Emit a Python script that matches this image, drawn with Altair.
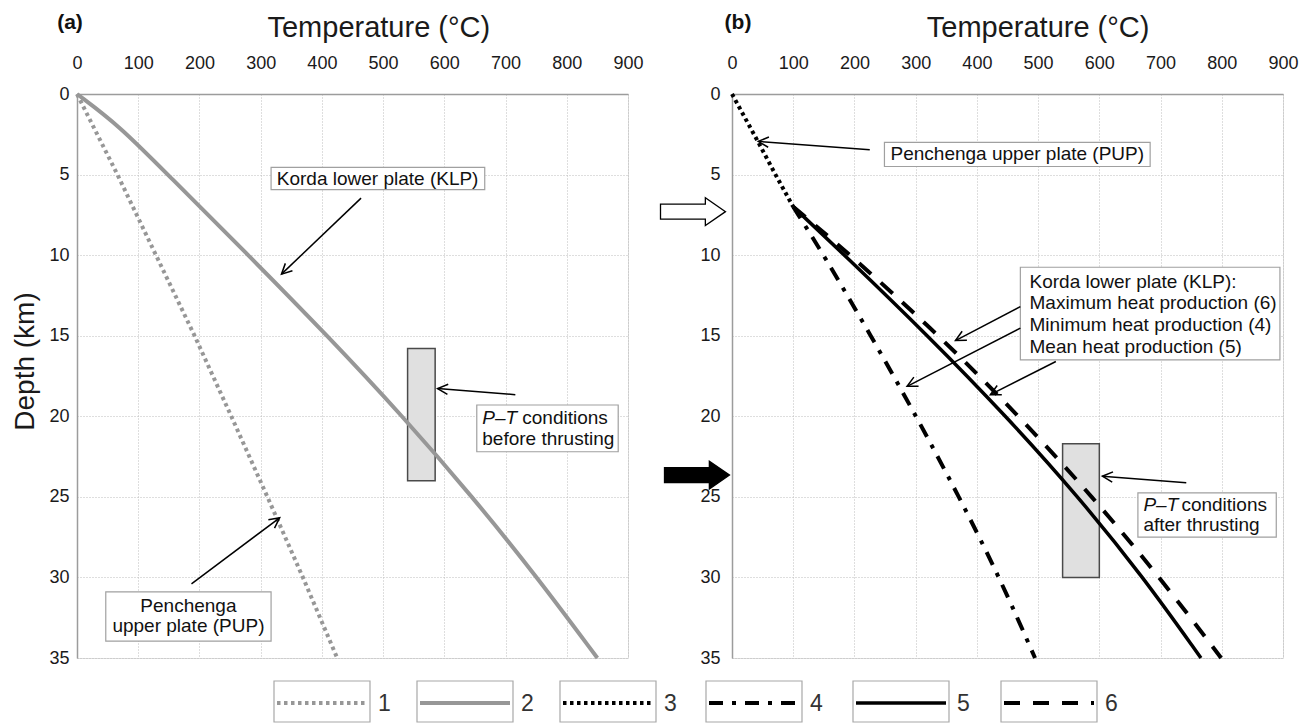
import math
import altair as alt
import pandas as pd

# ------------------------------------------------------------------
# Data
# ------------------------------------------------------------------
# Panel (a): before thrusting
klp_a_depth = [0, 2, 5, 10, 15, 20, 25, 30, 35]
klp_a_temp = [0, 70, 148, 280, 409, 532, 646, 752, 850]
pup_a_depth = [0, 5, 10, 15, 20, 25, 30, 35]
pup_a_temp = [0, 66, 129, 192, 252, 311, 369, 425]

# Panel (b): after thrusting
pup_b_depth = [0, 3, 5, 7]
pup_b_temp = [0, 43, 71, 100]
klp_b_depth = [7, 10, 15, 20, 25, 30, 35]
klp_min_temp = [100, 150, 227, 301, 371, 437, 495]
klp_mean_temp = [100, 184, 320, 448, 566, 672, 766]
klp_max_temp = [100, 194, 339, 469, 589, 699, 799]

# P-T condition boxes (temperature range, depth range)
pt_before_t = [540, 585]
pt_before_z = [15.8, 24.0]
pt_after_t = [540, 600]
pt_after_z = [21.7, 30.0]

x_ticks = list(range(0, 901, 100))
y_ticks = list(range(0, 36, 5))
legend_labels = ["1", "2", "3", "4", "5", "6"]

# ------------------------------------------------------------------
# Layout / style
# ------------------------------------------------------------------
FONT = "Liberation Sans"
W, H = 551, 564
XMAX, ZMAX = 900, 35
A_LEFT, TOP = 76, 93
B_LEFT = 731
SPACING = B_LEFT - (A_LEFT + W)


def tx(px):
    return px * XMAX / W


def tz(py):
    return py * ZMAX / H


GRAY = "#979797"
STYLES = {
    "1": dict(color=GRAY, strokeWidth=4, strokeDash=[3.5, 3.5]),
    "2": dict(color=GRAY, strokeWidth=4),
    "3": dict(color="black", strokeWidth=4, strokeDash=[3.5, 3.5]),
    "4": dict(color="black", strokeWidth=4, strokeDash=[14, 9, 4, 9]),
    "5": dict(color="black", strokeWidth=3.5),
    "6": dict(color="black", strokeWidth=4, strokeDash=[16, 13]),
}

xscale = alt.Scale(domain=[0, XMAX], nice=False, zero=False)
yscale = alt.Scale(domain=[0, ZMAX], nice=False, zero=False, reverse=True)


def xaxis():
    return alt.Axis(orient="top", values=x_ticks, ticks=False, tickSize=0,
                    domain=True, domainColor="#9c9c9c", domainWidth=1.5,
                    grid=True, gridColor="#bdbdbd", gridDash=[1, 2], gridWidth=1,
                    labelFont=FONT, labelFontSize=18, labelColor="#1a1a1a",
                    labelPadding=22, labelFlush=False, labelOverlap=False, title=None)


def yaxis(pad):
    return alt.Axis(orient="left", values=y_ticks, ticks=False, tickSize=0,
                    domain=True, domainColor="#9c9c9c", domainWidth=1.5,
                    grid=True, gridColor="#bdbdbd", gridDash=[1, 2], gridWidth=1,
                    labelFont=FONT, labelFontSize=18, labelColor="#1a1a1a",
                    labelPadding=pad, labelOverlap=False, title=None)


def enc(pad, f_t="t", f_z="z"):
    return dict(x=alt.X(f"{f_t}:Q", scale=xscale, axis=xaxis()),
                y=alt.Y(f"{f_z}:Q", scale=yscale, axis=yaxis(pad)))


def series_layer(depths, temps, key, pad, interp="linear"):
    df = pd.DataFrame({"z": depths, "t": temps, "o": list(range(len(depths)))})
    return alt.Chart(df).mark_line(interpolate=interp, strokeJoin="round", **STYLES[key]).encode(
        order="o:Q", **enc(pad))


def rect_layer(t1, t2, z1, z2, pad, fill, stroke, sw):
    df = pd.DataFrame({"t": t1, "t2": t2, "z": z1, "z2": z2})
    return alt.Chart(df).mark_rect(fill=fill, stroke=stroke, strokeWidth=sw).encode(
        x2="t2:Q", y2="z2:Q", **enc(pad))


def text_layer(ts, zs, labels, pad, size=19, align="center", style="normal",
               weight="normal", dx=0, color="#111111", angle=0):
    df = pd.DataFrame({"t": ts, "z": zs, "label": labels})
    kw = dict(font=FONT, fontSize=size, align=align, baseline="middle",
              fontStyle=style, fontWeight=weight, color=color, dx=dx)
    if angle:
        kw["angle"] = angle
    return alt.Chart(df).mark_text(**kw).encode(text="label:N", **enc(pad))


ARROW_HEAD = "M -0.5 1 L 0 0 L 0.5 1"
BLOCK_ARROW = "M -1 -0.23 L 0.38 -0.23 L 0.38 -0.43 L 1 0 L 0.38 0.43 L 0.38 0.23 L -1 0.23 Z"


def arrow_layers(t_from, z_from, t_to, z_to, pad):
    angs = []
    for a, b, c, d in zip(t_from, z_from, t_to, z_to):
        dx = (c - a) * W / XMAX
        dy = (d - b) * H / ZMAX
        angs.append(math.degrees(math.atan2(dx, -dy)) % 360)
    df = pd.DataFrame({"t": t_from, "z": z_from, "t2": t_to, "z2": z_to, "ang": angs})
    shaft = alt.Chart(df).mark_rule(color="black", strokeWidth=1.5).encode(
        x2="t2:Q", y2="z2:Q", **enc(pad))
    head = alt.Chart(df).mark_point(shape=ARROW_HEAD, filled=False, color="black",
                                    strokeWidth=1.5, size=420, opacity=1).encode(
        angle=alt.Angle("ang:Q", scale=None), **enc(pad, "t2", "z2"))
    return [shaft, head]


# ------------------------------------------------------------------
# Panel (a)
# ------------------------------------------------------------------
PA = 8
layers_a = []
# invisible anchor at the page's top-left corner
anchor = pd.DataFrame({"t": [tx(-A_LEFT)], "z": [tz(-TOP)], "t2": [tx(-A_LEFT)], "z2": [tz(-TOP)]})
layers_a.append(alt.Chart(anchor).mark_rule(strokeOpacity=0, strokeWidth=0.01).encode(
    x2="t2:Q", y2="z2:Q", **enc(PA)))
layers_a.append(rect_layer([pt_before_t[0]], [pt_before_t[1]], [pt_before_z[0]], [pt_before_z[1]],
                           PA, "#e0e0e0", "#4a4a4a", 1.5))
layers_a.append(series_layer(pup_a_depth, pup_a_temp, "1", PA))
layers_a.append(series_layer(klp_a_depth, klp_a_temp, "2", PA, "basis"))
# annotation boxes
layers_a.append(rect_layer([317, 653, 47], [666, 884, 317], [4.55, 19.3, 30.9], [5.94, 22.2, 33.95],
                           PA, "white", "#a0a0a0", 1.2))
layers_a.append(text_layer([491, 182, 182], [5.25, 31.8, 33.0],
                           ["Korda lower plate (KLP)", "Penchenga", "upper plate (PUP)"], PA))
layers_a.append(text_layer([662], [20.1], ["P\u2013T"], PA, align="left", style="italic"))
layers_a.append(text_layer([662], [20.1], ["conditions"], PA, align="left", dx=40))
layers_a.append(text_layer([662], [21.4], ["before thrusting"], PA, align="left"))
layers_a += arrow_layers([464, 716, 187], [6.46, 18.66, 30.4], [334, 589, 331], [11.18, 18.28, 26.3], PA)
# titles
layers_a.append(text_layer([tx(-7)], [tz(-71)], ["(a)"], PA, size=21, weight="bold"))
layers_a.append(text_layer([493], [tz(-66)], ["Temperature (\u00b0C)"], PA, size=29, color="#1a1a1a"))
layers_a.append(text_layer([tx(-51)], [16.6], ["Depth (km)"], PA, size=28, color="#1a1a1a", angle=270))

# legend (placed below both panels)
leg_left = [273, 416, 559, 705, 852, 1000]
LEG_W, LEG_TOP, LEG_BOT, LEG_Y = 96, 680, 721, 702
layers_a.append(rect_layer([tx(x - A_LEFT) for x in leg_left],
                           [tx(x + LEG_W - A_LEFT) for x in leg_left],
                           [tz(LEG_TOP - TOP)] * 6, [tz(LEG_BOT - TOP)] * 6,
                           PA, "white", "#a8a8a8", 1.2))
for i, key in enumerate(legend_labels):
    x0 = leg_left[i]
    df = pd.DataFrame({"t": [tx(x0 + 3 - A_LEFT)], "t2": [tx(x0 + LEG_W - 3 - A_LEFT)],
                       "z": [tz(LEG_Y - TOP)]})
    layers_a.append(alt.Chart(df).mark_rule(**STYLES[key]).encode(x2="t2:Q", **enc(PA)))
layers_a.append(text_layer([tx(x + LEG_W + 8 - A_LEFT) for x in leg_left], [tz(LEG_Y + 1 - TOP)] * 6,
                           legend_labels, PA, size=23, align="left", color="#333333"))

panel_a = alt.layer(*layers_a).properties(width=W, height=H)

# ------------------------------------------------------------------
# Panel (b)
# ------------------------------------------------------------------
PB = 12
layers_b = []
layers_b.append(rect_layer([pt_after_t[0]], [pt_after_t[1]], [pt_after_z[0]], [pt_after_z[1]],
                           PB, "#e0e0e0", "#4a4a4a", 1.5))
layers_b.append(series_layer(klp_b_depth, klp_min_temp, "4", PB, "basis"))
layers_b.append(series_layer(klp_b_depth, klp_max_temp, "6", PB, "basis"))
layers_b.append(series_layer(klp_b_depth, klp_mean_temp, "5", PB, "basis"))
layers_b.append(series_layer(pup_b_depth, pup_b_temp, "3", PB))
layers_b.append(rect_layer([249, 471, 663], [683, 895, 889], [3.0, 10.75, 24.75], [4.5, 16.5, 27.5],
                           PB, "white", "#a0a0a0", 1.2))
layers_b.append(text_layer([466], [3.75], ["Penchenga upper plate (PUP)"], PB))
layers_b.append(text_layer([486] * 4, [11.64, 12.98, 14.33, 15.67],
                           ["Korda lower plate (KLP):", "Maximum heat production (6)",
                            "Minimum heat production (4)", "Mean heat production (5)"], PB, align="left"))
layers_b.append(text_layer([672], [25.48], ["P\u2013T"], PB, align="left", style="italic"))
layers_b.append(text_layer([672], [25.48], ["conditions"], PB, align="left", dx=38))
layers_b.append(text_layer([672], [26.72], ["after  thrusting"], PB, align="left"))
layers_b += arrow_layers([225, 471, 471, 529, 742], [3.46, 13.19, 14.53, 16.6, 24.13],
                         [43, 365, 286, 422, 605], [2.94, 15.3, 18.14, 18.66, 23.72], PB)
# block arrows between the panels
blk = pd.DataFrame({"t": [tx(-39)], "z": [7.3]})
layers_b.append(alt.Chart(blk).mark_point(shape=BLOCK_ARROW, filled=True, fill="white", stroke="black",
                                          strokeWidth=1.3, size=4225, opacity=1).encode(**enc(PB)))
blk2 = pd.DataFrame({"t": [tx(-35)], "z": [23.65]})
layers_b.append(alt.Chart(blk2).mark_point(shape=BLOCK_ARROW, filled=True, fill="black", stroke="black",
                                           strokeWidth=1.3, size=4225, opacity=1).encode(**enc(PB)))
layers_b.append(text_layer([tx(6)], [tz(-71)], ["(b)"], PB, size=21, weight="bold"))
layers_b.append(text_layer([500], [tz(-66)], ["Temperature (\u00b0C)"], PB, size=29, color="#1a1a1a"))

panel_b = alt.layer(*layers_b).properties(width=W, height=H)

chart = alt.hconcat(panel_a, panel_b, spacing=SPACING, bounds="flush").properties(
    padding={"left": 0, "top": 0, "right": 0, "bottom": 0}
).configure_view(stroke=None).configure(background="white")

chart.save("out.html", embed_options={"renderer": "svg", "actions": False})
